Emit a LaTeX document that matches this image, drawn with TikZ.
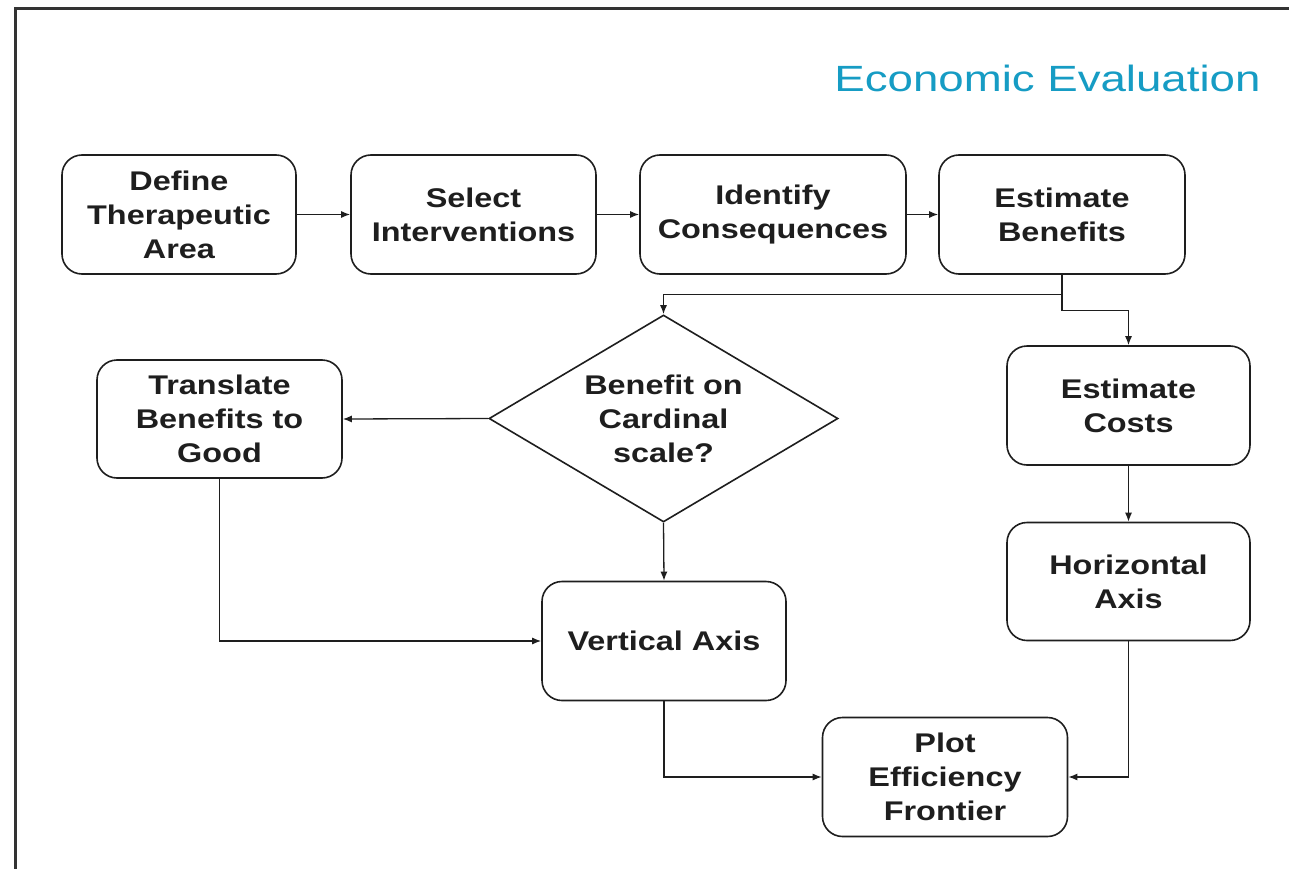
\documentclass[tikz,border=0pt]{standalone}
\usepackage{fontspec}
\setmainfont[FakeStretch=1.2]{Liberation Sans}
\newfontfamily\titlefont[FakeStretch=1.25]{Liberation Sans}
\usetikzlibrary{shapes.geometric,arrows.meta}
\definecolor{titleblue}{RGB}{22,156,196}
\definecolor{ink}{RGB}{30,30,30}
\begin{document}
\begin{tikzpicture}[x=1pt,y=-1pt,
  stepbox/.style={draw=ink, line width=1.6pt, rounded corners=20pt, minimum height=119pt,
    inner sep=0pt, align=center, text=ink, font=\fontsize{27}{34}\selectfont\bfseries},
  decision/.style={draw=ink, line width=1.6pt, diamond, minimum width=349pt, minimum height=207pt,
    inner sep=0pt},
  plaintext/.style={inner sep=0pt, align=center, text=ink, font=\fontsize{27}{34}\selectfont\bfseries},
  arr/.style={draw=ink, line width=1.3pt, -{Latex[length=9pt,width=7pt]}},
  frameline/.style={draw=black!80, line width=3pt}]
\useasboundingbox (0,0) rectangle (1289,869);
\fill[white] (0,0) rectangle (1289,869);
\draw[frameline] (14,9) -- (1289,9);
\draw[frameline] (15,9) -- (15,869);

\node[anchor=base east, text=titleblue, font=\titlefont\fontsize{36.5}{40}\selectfont] (title) at (1264,92) {Economic Evaluation};

\node[stepbox, minimum width=234pt] (def) at (179,214.5) {Define\\Therapeutic\\Area};
\node[stepbox, minimum width=245pt] (sel) at (473.5,214.5) {Select\\Interventions};
\node[stepbox, minimum width=266pt] (ide) at (773,214.5) {Identify\\Consequences};
\node[stepbox, minimum width=246pt] (ben) at (1062,214.5) {Estimate\\Benefits};
\node[stepbox, minimum width=243pt] (cost) at (1128.5,405.5) {Estimate\\Costs};
\node[stepbox, minimum width=243pt, minimum height=118pt] (hor) at (1128.5,581.5) {Horizontal\\Axis};
\node[stepbox, minimum width=245pt, minimum height=118pt] (tra) at (219.5,419) {Translate\\Benefits to\\Good};
\node[stepbox, minimum width=244pt] (ver) at (664,641) {Vertical Axis};
\node[stepbox, minimum width=245pt] (plot) at (945,777) {Plot\\Efficiency\\Frontier};
\node[decision] (dia) at (663.5,418.5) {};
\node[plaintext] (diatext) at (dia.center) {Benefit on\\Cardinal\\scale?};

\draw[arr] (def) -- (sel);
\draw[arr] (sel) -- (ide);
\draw[arr] (ide) -- (ben);
\draw[arr] (ben.south) -- ++(0,20) -| (dia.north);
\draw[arr] (ben.south) -- ++(0,36) -| (cost.north);
\draw[arr] (cost) -- (hor);
\draw[arr] (dia.west) -- (tra.east);
\draw[arr] (dia.south) -- (ver.north);
\draw[arr] (tra.south) |- (ver.west);
\draw[arr] (ver.south) |- (plot.west);
\draw[arr] (hor.south) |- (plot.east);
\end{tikzpicture}
\end{document}
